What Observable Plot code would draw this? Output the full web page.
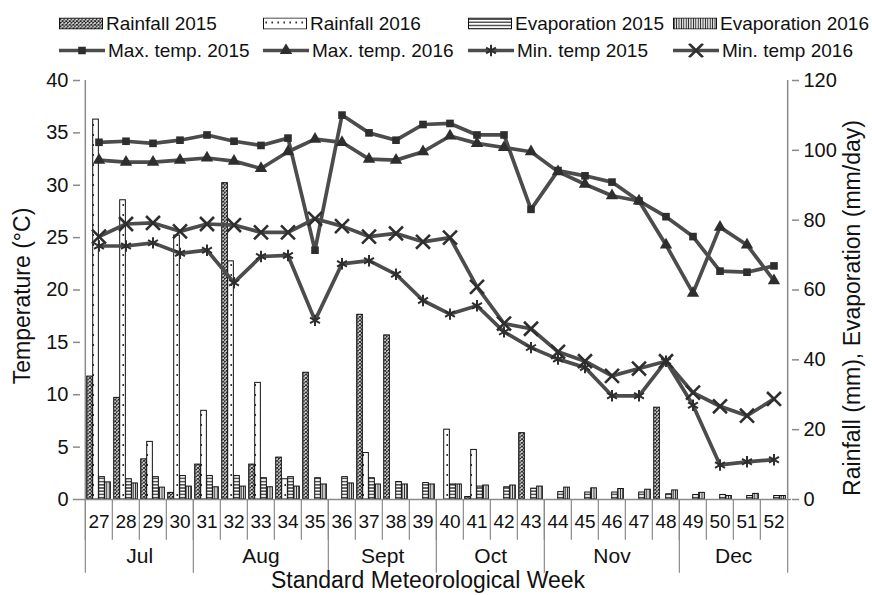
<!DOCTYPE html>
<html><head><meta charset="utf-8">
<script src="https://cdn.jsdelivr.net/npm/d3@7"></script>
<script src="https://cdn.jsdelivr.net/npm/@observablehq/plot@0.6"></script>
<style>
body{margin:0;background:#fff;font-family:"Liberation Sans",Arial,sans-serif;}
#wrap{position:relative;width:872px;height:595px;overflow:hidden;}
#legend{position:absolute;left:0;top:0;width:872px;height:70px;}
.li{position:absolute;display:flex;align-items:center;font-size:19px;color:#111;white-space:nowrap;line-height:1;transform:translateY(-50%);}
.li svg{margin-right:3px;display:block;}
</style></head><body>
<svg width="0" height="0" style="position:absolute">
<defs>
<pattern id="pR15" patternUnits="userSpaceOnUse" width="3.6" height="3.6">
 <rect width="3.6" height="3.6" fill="#fff"/>
 <path d="M0,0L3.6,3.6M3.6,0L0,3.6" stroke="#222" stroke-width="1.1"/>
</pattern>
<pattern id="pR16" patternUnits="userSpaceOnUse" width="6" height="10">
 <rect width="6" height="10" fill="#fff"/>
 <circle cx="3.2" cy="5" r="0.9" fill="#111"/>
</pattern>
<pattern id="pE15" patternUnits="userSpaceOnUse" width="4" height="3.2">
 <rect width="4" height="3.2" fill="#fff"/>
 <path d="M0,1.6H4" stroke="#1a1a1a" stroke-width="1.2"/>
</pattern>
<pattern id="pE16" patternUnits="userSpaceOnUse" width="2.4" height="4">
 <rect width="2.4" height="4" fill="#fff"/>
 <path d="M1.2,0V4" stroke="#1a1a1a" stroke-width="1.05"/>
</pattern>
</defs></svg>
<div id="wrap"><div id="plot"></div><div id="legend"></div></div>
<script>
// ---- data ----
const weeks = [27,28,29,30,31,32,33,34,35,36,37,38,39,40,41,42,43,44,45,46,47,48,49,50,51,52];
const maxTemp2015 = [34.1,34.2,34.0,34.3,34.8,34.2,33.8,34.5,23.8,36.7,35.0,34.3,35.8,35.9,34.8,34.8,27.7,31.4,30.9,30.3,28.5,27.0,25.1,21.8,21.7,22.3];
const maxTemp2016 = [32.4,32.2,32.2,32.4,32.6,32.3,31.6,33.2,34.4,34.1,32.5,32.4,33.2,34.7,34.0,33.6,33.2,31.3,30.1,29.0,28.5,24.3,19.7,26.0,24.3,20.9];
const minTemp2015 = [24.2,24.2,24.5,23.5,23.8,20.7,23.2,23.3,17.1,22.5,22.8,21.5,19.0,17.7,18.5,16.0,14.5,13.4,12.6,9.9,9.9,13.2,9.0,3.3,3.6,3.8];
const minTemp2016 = [25.1,26.3,26.4,25.6,26.3,26.2,25.5,25.5,26.8,26.1,25.1,25.4,24.6,25.0,20.3,16.8,16.3,14.1,13.2,11.8,12.5,13.2,10.2,8.9,8.0,9.6];
const rainfall2015 = [35.2,29.1,11.5,1.9,10.0,90.6,10.0,12.0,36.3,0,52.9,47.0,0,0,0.7,0,19.0,0,0,0,0,26.3,0,0,0,0];
const rainfall2016 = [108.8,85.7,16.5,75.6,25.4,68.2,33.4,5.8,0,0,13.3,0,0,20.0,14.2,0,0,0,0,0,0,0,0,0,0,0];
const evaporation2015 = [6.4,5.8,6.4,6.7,6.7,6.7,6.1,6.4,6.1,6.4,6.1,5.0,4.7,4.3,3.7,3.5,3.1,2.1,2.0,2.0,2.0,1.5,1.3,1.3,1.0,1.0];
const evaporation2016 = [4.9,4.6,3.4,3.7,3.5,3.7,3.5,3.7,4.3,4.6,4.3,4.3,4.3,4.3,4.0,4.0,3.7,3.4,3.2,3.0,2.8,2.6,1.9,1.0,1.6,1.0];
const months = ["Jul","Aug","Sept","Oct","Nov","Dec"];
const monthFirstWeek = [27,31,36,40,44,49];
const monthWeekCount = [4,5,4,4,5,4];
const tempTicks = [0,5,10,15,20,25,30,35,40];
const rainTicks = [0,20,40,60,80,100,120];
const barLabels = ["Rainfall 2015","Rainfall 2016","Evaporation 2015","Evaporation 2016"];
const lineLabels = ["Max. temp. 2015","Max. temp. 2016","Min. temp 2015","Min. temp 2016"];

// ---- build ----
const W = 872, H = 595, mL = 80, mR = 81, mT = 80, mB = 96;
const bw = (W - mL - mR) / weeks.length;
const ratio = 3; // right axis (0-120) vs left axis (0-40)
const data = weeks.map((w, i) => ({
  week: w, max15: maxTemp2015[i], max16: maxTemp2016[i], min15: minTemp2015[i], min16: minTemp2016[i],
  r15: rainfall2015[i], r16: rainfall2016[i], e15: evaporation2015[i], e16: evaporation2016[i]
}));
const gray = "#8a8a8a", lineC = "#4c4c4c", markC = "#2e2e2e";
const barDefs = [
  {key: "r15", fill: "url(#pR15)"},
  {key: "r16", fill: "url(#pR16)"},
  {key: "e15", fill: "url(#pE15)"},
  {key: "e16", fill: "url(#pE16)"}
];
const barW = 6, barOff = 1.7;
const lineDefs = [
  {key: "max15", symbol: "square", r: 4.3, filled: true},
  {key: "max16", symbol: "triangle", r: 4.6, filled: true},
  {key: "min15", symbol: "asterisk", r: 5.4, filled: false, sw: 2},
  {key: "min16", symbol: "times", r: 6.4, filled: false, sw: 2.6}
];
const monthData = months.map((m, i) => ({name: m, n: monthWeekCount[i], mid: monthFirstWeek[i] + Math.floor((monthWeekCount[i] - 1) / 2)}));
const monthEnds = [...monthFirstWeek];

const marks = [];
barDefs.forEach((b, i) => {
  marks.push(Plot.barY(data.filter(d => d[b.key] > 0), {
    x: "week", y: d => d[b.key] / ratio, fill: b.fill, stroke: "#111", strokeWidth: 1,
    insetLeft: barOff + barW * i, insetRight: bw - barOff - barW * (i + 1)
  }));
});
lineDefs.forEach(l => {
  marks.push(Plot.line(data, {x: "week", y: l.key, stroke: lineC, strokeWidth: 3.7, strokeLinejoin: "round"}));
});
lineDefs.forEach(l => {
  marks.push(Plot.dot(data, l.filled
    ? {x: "week", y: l.key, symbol: l.symbol, r: l.r, fill: markC, stroke: "none"}
    : {x: "week", y: l.key, symbol: l.symbol, r: l.r, fill: "none", stroke: markC, strokeWidth: l.sw}));
});
// axes lines
marks.push(Plot.ruleY([0], {stroke: gray, strokeWidth: 1.5}));
marks.push(Plot.ruleX([weeks[0]], {dx: -bw / 2, y1: 0, y2: 40, stroke: gray, strokeWidth: 1.5}));
marks.push(Plot.ruleX([weeks[weeks.length - 1]], {dx: bw / 2, y1: 0, y2: 40, stroke: gray, strokeWidth: 1.5}));
// week separators
marks.push(Plot.ruleX(weeks, {dx: -bw / 2, y1: 0, y2: -3.9, stroke: gray, strokeWidth: 1.2}));
marks.push(Plot.ruleX([weeks[weeks.length - 1]], {dx: bw / 2, y1: 0, y2: -7.05, stroke: gray, strokeWidth: 1.2}));
// month separators
marks.push(Plot.ruleX(monthEnds, {dx: -bw / 2, y1: 0, y2: -7.05, stroke: gray, strokeWidth: 1.2}));
// month labels
marks.push(Plot.text(monthData.filter(d => d.n % 2 === 0), {x: "mid", y: -5.45, dx: bw / 2, text: "name", fontSize: 21, fill: "#111"}));
marks.push(Plot.text(monthData.filter(d => d.n % 2 === 1), {x: "mid", y: -5.45, text: "name", fontSize: 21, fill: "#111"}));
// axes
marks.push(Plot.axisX({tickSize: 0, tickPadding: 15, fontSize: 19, label: null, fill: "#111"}));
marks.push(Plot.axisY({ticks: tempTicks, tickSize: 7, tickPadding: 5, stroke: gray, strokeWidth: 1.5, fill: "#111", fontSize: 20, label: null}));
marks.push(Plot.axisY({anchor: "right", ticks: rainTicks.map(d => d / ratio), tickFormat: d => String(Math.round(d * ratio)),
  tickSize: 7, tickPadding: 5, stroke: gray, strokeWidth: 1.5, fill: "#111", fontSize: 20, label: null}));
// titles
marks.push(Plot.text(["Standard Meteorological Week"], {frameAnchor: "bottom", dx: -8, dy: 81, fontSize: 23, textAnchor: "middle", lineAnchor: "middle", fill: "#111"}));
marks.push(Plot.text(["Temperature (°C)"], {frameAnchor: "left", dx: -58, dy: 6, rotate: -90, fontSize: 23, textAnchor: "middle", lineAnchor: "middle", fill: "#111"}));
marks.push(Plot.text(["Rainfall (mm), Evaporation (mm/day)"], {frameAnchor: "right", dx: 61, dy: 18, rotate: -90, fontSize: 23, textAnchor: "middle", lineAnchor: "middle", fill: "#111"}));

const chart = Plot.plot({
  width: W, height: H,
  marginLeft: mL, marginRight: mR, marginTop: mT, marginBottom: mB,
  style: {fontFamily: '"Liberation Sans", Arial, sans-serif', fontSize: "19px", color: "#111", background: "#fff", overflow: "visible"},
  x: {type: "band", domain: weeks, padding: 0, axis: null},
  y: {domain: [0, 40], axis: null},
  marks
});
document.getElementById("plot").appendChild(chart);

// ---- legend ----
const legend = document.getElementById("legend");
const lefts = [59, 263, 468, 673];
const rowY = [23, 50];
barLabels.forEach((lab, i) => {
  const div = document.createElement("div");
  div.className = "li";
  div.style.left = lefts[i] + "px";
  div.style.top = rowY[0] + "px";
  div.innerHTML = `<svg width="44" height="12"><rect x="0.5" y="0.5" width="43" height="11" fill="${barDefs[i].fill}" stroke="#111" stroke-width="1"/></svg><span>${lab}</span>`;
  legend.appendChild(div);
});
const symMap = {square: d3.symbolSquare, triangle: d3.symbolTriangle, asterisk: d3.symbolAsterisk, times: d3.symbolTimes};
lineLabels.forEach((lab, i) => {
  const l = lineDefs[i];
  const p = d3.symbol(symMap[l.symbol], Math.PI * l.r * l.r)();
  const sym = l.filled
    ? `<path d="${p}" transform="translate(23,7)" fill="${markC}"/>`
    : `<path d="${p}" transform="translate(23,7)" fill="none" stroke="${markC}" stroke-width="${l.sw}"/>`;
  const div = document.createElement("div");
  div.className = "li";
  div.style.left = lefts[i] + "px";
  div.style.top = rowY[1] + "px";
  div.innerHTML = `<svg width="46" height="14"><line x1="0" y1="7" x2="46" y2="7" stroke="${lineC}" stroke-width="3.5"/>${sym}</svg><span>${lab}</span>`;
  legend.appendChild(div);
});
</script>
</body></html>
